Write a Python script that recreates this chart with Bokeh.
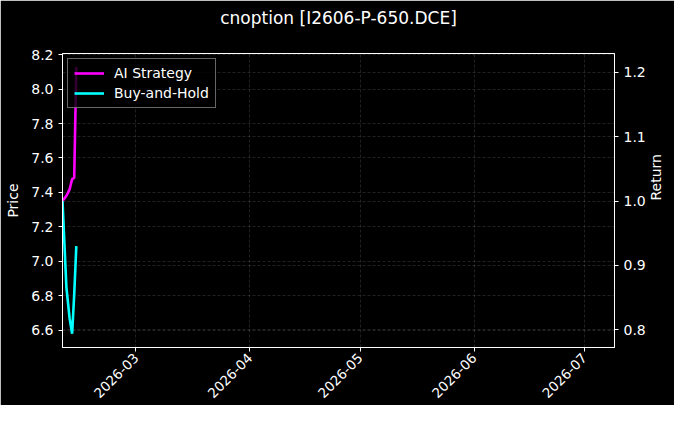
from math import pi

import pandas as pd
from bokeh.embed import file_html
from bokeh.models import (DatetimeTickFormatter, FixedTicker, Grid, LinearAxis,
                          PrintfTickFormatter, Range1d, Title)
from bokeh.plotting import figure
from bokeh.resources import INLINE

# backtest bars (first days of trading)
times = ['2026-02-09 00:00', '2026-02-10 01:30', '2026-02-10 22:20',
         '2026-02-11 14:50', '2026-02-12 04:30', '2026-02-12 18:15']
ai_strategy = [1.000, 1.008, 1.018, 1.034, 1.036, 1.208]
buy_and_hold = [1.000, 0.866, 0.818, 0.794, 0.855, 0.930]

price_ticks = [6.6, 6.8, 7.0, 7.2, 7.4, 7.6, 7.8, 8.0, 8.2]
return_ticks = [0.8, 0.9, 1.0, 1.1, 1.2]
month_ticks = ['2026-03-01', '2026-04-01', '2026-05-01', '2026-06-01', '2026-07-01']

FONT = 'DejaVu Sans'

data = pd.DataFrame({
    'time': pd.to_datetime(times),
    'ai': ai_strategy,
    'bh': buy_and_hold,
})

p = figure(
    title='cnoption [I2606-P-650.DCE]',
    x_axis_type='datetime',
    x_range=Range1d(pd.Timestamp('2026-02-09 00:00'), pd.Timestamp('2026-07-09 05:00')),
    y_range=Range1d(6.499, 8.207),
    width=674,
    height=405,
    toolbar_location=None,
    output_backend='svg',
    min_border_left=62,
    min_border_right=54,
    min_border_top=52,
    min_border_bottom=58,
)
p.extra_y_ranges = {'ret': Range1d(0.7726, 1.229)}
right_axis = LinearAxis(y_range_name='ret', axis_label='Return')
try:
    right_axis.axis_label_orientation = pi / 2
except Exception:
    pass
p.add_layout(right_axis, 'right')

p.line(x='time', y='ai', line_width=2.6, color='#ff00ff', legend_label='AI Strategy',
       y_range_name='ret', source=data)
p.line(x='time', y='bh', line_width=2.6, color='#00ffff', legend_label='Buy-and-Hold',
       y_range_name='ret', source=data)

p.background_fill_color = 'black'
p.border_fill_color = 'black'
p.outline_line_color = 'white'
p.outline_line_width = 1

p.title.text_color = 'white'
p.title.text_font = FONT
p.title.text_font_size = '17px'
p.title.text_font_style = 'normal'
p.title.align = 'center'
p.title.standoff = 10
# empty spacer between the frame and the title
p.add_layout(Title(text=' ', text_font_size='4px', standoff=14), 'above')

p.yaxis[0].axis_label = 'Price'
p.yaxis[0].ticker = FixedTicker(ticks=price_ticks)
right_axis.ticker = FixedTicker(ticks=return_ticks)
for ax in p.yaxis:
    ax.formatter = PrintfTickFormatter(format='%.1f')

month_ms = [pd.Timestamp(m).value // 10**6 for m in month_ticks]
p.xaxis.ticker = FixedTicker(ticks=month_ms)
p.xaxis.formatter = DatetimeTickFormatter(days='%Y-%m', months='%Y-%m', years='%Y-%m',
                                          hours='%Y-%m', hourmin='%Y-%m')
p.xaxis.major_label_orientation = pi / 4

for ax in p.axis:
    ax.axis_line_color = 'white'
    ax.major_tick_line_color = 'white'
    ax.major_tick_out = 4
    ax.major_tick_in = 0
    ax.minor_tick_line_color = None
    ax.major_label_text_color = 'white'
    ax.major_label_text_font = FONT
    ax.major_label_text_font_size = '14px'
    ax.major_label_standoff = 5
    ax.axis_label_text_color = 'white'
    ax.axis_label_text_font = FONT
    ax.axis_label_text_font_size = '14px'
    ax.axis_label_text_font_style = 'normal'
    ax.axis_label_standoff = 7
p.xaxis.major_label_standoff = 4
p.xaxis.major_label_text_font_size = '13.5px'

p.add_layout(Grid(dimension=1, ticker=right_axis.ticker, y_range_name='ret'))
for g in p.grid:
    g.grid_line_color = 'white'
    g.grid_line_alpha = 0.22
    g.grid_line_dash = '3 2'
    g.grid_line_width = 0.6
p.ygrid[0].ticker = p.yaxis[0].ticker

p.legend.location = 'top_left'
p.legend.margin = 5
p.legend.padding = 6
p.legend.spacing = 4
p.legend.glyph_width = 30
p.legend.glyph_height = 16
p.legend.label_height = 16
p.legend.label_standoff = 10
p.legend.label_text_color = 'white'
p.legend.label_text_font = FONT
p.legend.label_text_font_size = '14px'
p.legend.background_fill_color = 'black'
p.legend.background_fill_alpha = 0.8
p.legend.border_line_color = '#cccccc'
p.legend.border_line_width = 1

open('out.html', 'w').write(file_html(p, INLINE))
